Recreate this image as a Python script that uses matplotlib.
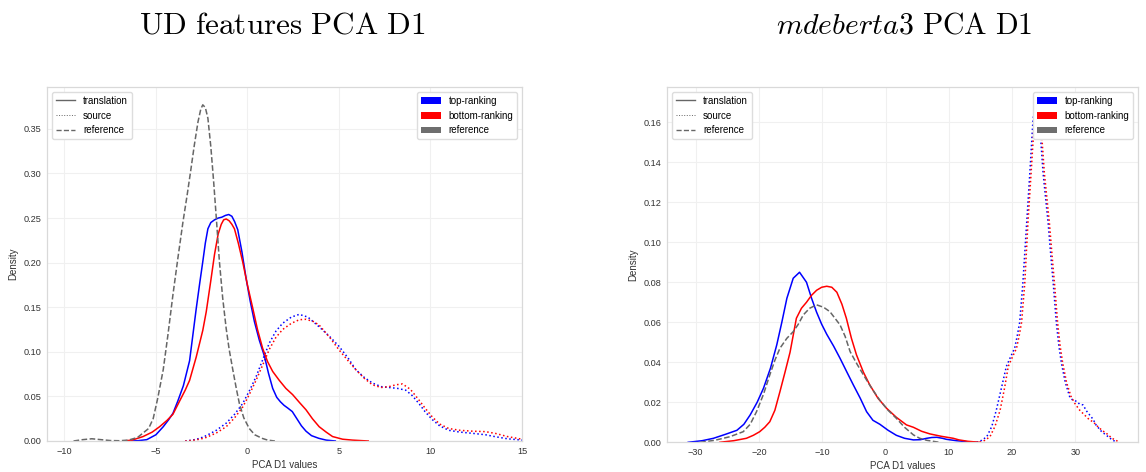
import matplotlib
matplotlib.use("Agg")
import matplotlib.pyplot as plt
from matplotlib.lines import Line2D
from matplotlib.patches import Patch

plt.rcParams['font.family'] = ['Liberation Sans', 'DejaVu Sans']
plt.rcParams['mathtext.fontset'] = 'cm'

# ---------------- data: UD features PCA D1 ----------------
ud_ref_x = [-9.5, -9.0, -8.5, -8.0, -7.5, -7.0, -6.5, -6.0, -5.7, -5.4, -5.15, -4.9, -4.6, -4.35, -4.07, -3.8,
            -3.52, -3.3, -3.1, -2.9, -2.7, -2.55, -2.44, -2.3, -2.16, -2.0, -1.85, -1.7, -1.53, -1.35, -1.16, -1.0,
            -0.8, -0.6, -0.44, -0.2, 0.1, 0.4, 0.8, 1.1, 1.5]
ud_ref_y = [0.0, 0.0015, 0.0025, 0.0015, 0.0005, 0.0003, 0.001, 0.004, 0.009, 0.014, 0.025, 0.048, 0.080, 0.118,
            0.164, 0.205, 0.246, 0.275, 0.303, 0.332, 0.358, 0.372, 0.377, 0.374, 0.362, 0.330, 0.292, 0.250, 0.201,
            0.160, 0.126, 0.103, 0.080, 0.058, 0.042, 0.026, 0.014, 0.007, 0.003, 0.001, 0.0]

ud_top_tr_x = [-6.5, -6.0, -5.5, -5.0, -4.6, -4.3, -4.07, -3.8, -3.5, -3.16, -2.8, -2.6, -2.44, -2.3, -2.16, -2.0,
               -1.8, -1.6, -1.4, -1.2, -1.02, -0.85, -0.7, -0.53, -0.3, -0.07, 0.15, 0.38, 0.65, 0.93, 1.15, 1.38,
               1.6, 1.8, 2.0, 2.2, 2.45, 2.7, 2.95, 3.2, 3.5, 3.9, 4.3, 4.8]
ud_top_tr_y = [0.0, 0.0003, 0.0015, 0.007, 0.016, 0.024, 0.031, 0.045, 0.062, 0.090, 0.148, 0.178, 0.201, 0.222,
               0.238, 0.245, 0.248, 0.250, 0.251, 0.253, 0.254, 0.252, 0.246, 0.237, 0.212, 0.182, 0.157, 0.134,
               0.113, 0.095, 0.076, 0.059, 0.049, 0.044, 0.040, 0.037, 0.033, 0.025, 0.017, 0.011, 0.006, 0.003,
               0.001, 0.0]

ud_bot_tr_x = [-6.8, -6.3, -5.7, -5.2, -4.8, -4.4, -4.07, -3.7, -3.4, -3.16, -2.8, -2.44, -2.25, -2.0, -1.8, -1.6,
               -1.43, -1.3, -1.16, -1.0, -0.85, -0.71, -0.5, -0.26, 0.0, 0.29, 0.55, 0.83, 1.1, 1.38, 1.74, 2.1,
               2.47, 2.85, 3.2, 3.55, 3.92, 4.3, 4.65, 5.2, 5.74, 6.6]
ud_bot_tr_y = [0.0, 0.001, 0.005, 0.010, 0.016, 0.023, 0.030, 0.045, 0.057, 0.068, 0.094, 0.124, 0.145, 0.180,
               0.209, 0.232, 0.243, 0.248, 0.249, 0.247, 0.243, 0.238, 0.222, 0.201, 0.175, 0.149, 0.125, 0.104,
               0.089, 0.078, 0.068, 0.059, 0.052, 0.043, 0.035, 0.025, 0.016, 0.010, 0.005, 0.002, 0.001, 0.0]

ud_top_src_x = [-3.4, -3.0, -2.6, -2.25, -1.7, -1.16, -0.7, -0.26, 0.1, 0.47, 0.85, 1.2, 1.55, 1.92, 2.4, 2.83,
                3.3, 3.92, 4.5, 5.01, 5.5, 5.92, 6.4, 6.83, 7.3, 7.74, 8.2, 8.65, 9.0, 9.37, 9.7, 10.1, 10.5, 11.0,
                11.6, 12.3, 13.0, 13.55, 14.2, 15.0]
ud_top_src_y = [0.0, 0.001, 0.003, 0.006, 0.012, 0.020, 0.030, 0.042, 0.056, 0.072, 0.092, 0.110, 0.123, 0.132,
                0.139, 0.142, 0.139, 0.128, 0.117, 0.106, 0.093, 0.080, 0.071, 0.065, 0.061, 0.060, 0.059, 0.057,
                0.051, 0.042, 0.033, 0.024, 0.017, 0.012, 0.010, 0.0086, 0.007, 0.0048, 0.0025, 0.001]

ud_bot_src_x = [-3.4, -3.0, -2.6, -2.25, -1.7, -1.16, -0.7, -0.26, 0.1, 0.47, 0.85, 1.2, 1.55, 1.92, 2.4, 2.83,
                3.2, 3.6, 3.92, 4.5, 5.01, 5.5, 5.92, 6.4, 6.83, 7.3, 7.74, 8.1, 8.47, 8.9, 9.37, 9.7, 10.1, 10.5,
                11.0, 11.6, 12.3, 13.0, 13.55, 14.2, 15.0]
ud_bot_src_y = [0.0, 0.0007, 0.002, 0.004, 0.009, 0.016, 0.026, 0.038, 0.052, 0.068, 0.086, 0.103, 0.116, 0.125,
                0.132, 0.136, 0.1365, 0.134, 0.130, 0.116, 0.102, 0.090, 0.080, 0.070, 0.063, 0.060, 0.061, 0.063,
                0.064, 0.058, 0.046, 0.037, 0.027, 0.019, 0.014, 0.012, 0.011, 0.0105, 0.0085, 0.005, 0.002]

# ---------------- data: mdeberta3 PCA D1 ----------------
md_ref_x = [-29.3, -27.0, -24.6, -22.5, -21.4, -20.4, -19.3, -18.3, -17.5, -16.7, -15.6, -14.6, -13.8, -13.0, -12.0,
            -10.9, -9.8, -8.8, -8.0, -7.2, -6.4, -5.6, -4.5, -3.5, -2.2, -0.9, 0.4, 1.7, 3.0, 4.4, 5.4, 6.5, 7.5, 8.5]
md_ref_y = [0.0, 0.001, 0.0028, 0.0053, 0.009, 0.0153, 0.024, 0.0337, 0.041, 0.047, 0.052, 0.0553, 0.059, 0.0637,
            0.067, 0.0687, 0.0675, 0.0653, 0.062, 0.0587, 0.053, 0.0453, 0.039, 0.0337, 0.027, 0.021, 0.016, 0.012,
            0.0075, 0.0037, 0.002, 0.001, 0.0005, 0.0]

md_top_tr_x = [-31.2, -29.0, -27.2, -25.3, -23.5, -22.4, -21.4, -20.3, -19.3, -18.2, -17.2, -16.4, -15.6, -14.6,
               -13.6, -12.5, -11.7, -10.9, -10.1, -9.3, -8.2, -7.2, -6.1, -5.1, -4.0, -3.0, -2.0, -0.9, 0.4, 1.7,
               3.0, 4.4, 5.5, 6.5, 7.3, 8.1, 9.0, 9.6, 11.2, 12.8, 14.4]
md_top_tr_y = [0.0, 0.0008, 0.002, 0.004, 0.006, 0.009, 0.0137, 0.020, 0.027, 0.037, 0.0487, 0.060, 0.072, 0.082,
               0.085, 0.080, 0.072, 0.065, 0.059, 0.054, 0.048, 0.042, 0.035, 0.0287, 0.022, 0.0153, 0.011, 0.009,
               0.006, 0.0035, 0.002, 0.0012, 0.0013, 0.002, 0.0024, 0.0025, 0.002, 0.0015, 0.0008, 0.0003, 0.0]

md_bot_tr_x = [-26.2, -24.0, -22.0, -20.9, -19.9, -19.1, -18.3, -17.5, -16.7, -15.9, -15.1, -14.1, -13.3, -12.5,
               -11.7, -10.9, -10.1, -9.3, -8.5, -7.7, -6.9, -6.2, -5.4, -4.6, -3.5, -2.5, -1.2, 0.16, 1.7, 3.3, 4.4,
               5.7, 7.0, 8.8, 10.7, 11.6, 13.0, 14.9]
md_bot_tr_y = [0.0, 0.0008, 0.002, 0.0035, 0.0053, 0.0075, 0.0103, 0.016, 0.0253, 0.035, 0.045, 0.062, 0.067, 0.070,
               0.0735, 0.076, 0.0775, 0.078, 0.0775, 0.075, 0.069, 0.062, 0.052, 0.0437, 0.035, 0.0287, 0.022, 0.017,
               0.0125, 0.0087, 0.0075, 0.0055, 0.0042, 0.003, 0.002, 0.0012, 0.0005, 0.0]

md_top_src_x = [14.4, 15.2, 16.0, 16.8, 17.5, 18.3, 19.1, 19.8, 20.4, 20.8, 21.2, 21.7, 22.3, 22.8, 23.3, 23.6, 23.9,
                24.15, 24.4, 24.9, 25.3, 25.7, 26.1, 26.5, 27.0, 27.4, 27.8, 28.4, 29.1, 29.6, 30.2, 30.7, 31.2,
                31.8, 32.3, 32.8, 33.3, 34.1, 34.9, 35.7, 36.5]
md_top_src_y = [0.0, 0.001, 0.0028, 0.008, 0.016, 0.027, 0.038, 0.043, 0.047, 0.053, 0.060, 0.0795, 0.1095, 0.1345,
                0.161, 0.169, 0.172, 0.168, 0.157, 0.1345, 0.122, 0.1095, 0.094, 0.0795, 0.0595, 0.048, 0.0395,
                0.030, 0.0228, 0.021, 0.0205, 0.019, 0.0187, 0.0155, 0.0135, 0.0115, 0.0085, 0.0055, 0.0035, 0.0015,
                0.0]

md_bot_src_x = [14.9, 15.7, 16.5, 17.3, 18.1, 18.8, 19.4, 20.1, 20.7, 21.1, 21.5, 22.0, 22.5, 23.0, 23.5, 23.8, 24.1,
                24.4, 24.6, 25.1, 25.5, 25.9, 26.3, 26.7, 27.2, 27.6, 28.0, 28.6, 29.3, 30.0, 30.7, 31.5, 32.3, 32.8,
                33.5, 34.2, 34.9, 35.8, 37.0]
md_bot_src_y = [0.0, 0.001, 0.0028, 0.008, 0.016, 0.027, 0.038, 0.043, 0.047, 0.053, 0.060, 0.0795, 0.1095, 0.1345,
                0.160, 0.168, 0.171, 0.167, 0.157, 0.1345, 0.122, 0.1095, 0.094, 0.0795, 0.0595, 0.048, 0.0395, 0.030,
                0.023, 0.019, 0.016, 0.0135, 0.011, 0.0103, 0.008, 0.006, 0.0045, 0.002, 0.0]

titles = [r'$\mathrm{UD\ features\ PCA\ D1}$', r'$\mathit{mdeberta3}\ \mathrm{PCA\ D1}$']
xlabel = 'PCA D1 values'
ylabel = 'Density'
style_labels = ['translation', 'source', 'reference']
group_labels = ['top-ranking', 'bottom-ranking', 'reference']

BLUE, RED, GRAY = '#0000ff', '#ff0000', '#666666'

fig = plt.figure(figsize=(11.46, 4.72), dpi=100)
ax1 = fig.add_axes([47/1146, 31/472, 475/1146, 354/472])
ax2 = fig.add_axes([667/1146, 29.7/472, 471/1146, 355.3/472])

panels = [
    (ax1, ud_top_tr_x, ud_top_tr_y, ud_bot_tr_x, ud_bot_tr_y, ud_top_src_x, ud_top_src_y,
     ud_bot_src_x, ud_bot_src_y, ud_ref_x, ud_ref_y),
    (ax2, md_top_tr_x, md_top_tr_y, md_bot_tr_x, md_bot_tr_y, md_top_src_x, md_top_src_y,
     md_bot_src_x, md_bot_src_y, md_ref_x, md_ref_y),
]

lw = 1.1
for (ax, ttx, tty, btx, bty, tsx, tsy, bsx, bsy, rx, ry) in panels:
    ax.set_facecolor('white')
    ax.grid(True, color='#f0f0f0', linewidth=0.8)
    ax.set_axisbelow(True)
    for s in ax.spines.values():
        s.set_color('#d9d9d9')
        s.set_linewidth(0.9)
    ax.tick_params(length=0, labelsize=6.6, colors='#333333', pad=4)
    ax.plot(tsx, tsy, color=BLUE, lw=lw, ls=':')
    ax.plot(bsx, bsy, color=RED, lw=lw, ls=':')
    ax.plot(ttx, tty, color=BLUE, lw=lw, ls='-')
    ax.plot(btx, bty, color=RED, lw=lw, ls='-')
    ax.plot(rx, ry, color=GRAY, lw=lw, ls='--')
    ax.set_xlabel(xlabel, fontsize=7, color='#333333', labelpad=3)
    ax.set_ylabel(ylabel, fontsize=7, color='#333333', labelpad=4)

    h1 = [Line2D([], [], color=GRAY, lw=1.0, ls='-'),
          Line2D([], [], color=GRAY, lw=0.7, ls=':'),
          Line2D([], [], color=GRAY, lw=1.0, ls='--')]
    leg1 = ax.legend(h1, style_labels, loc='upper left', fontsize=7, frameon=True,
                     borderaxespad=0.5, handlelength=2.0, framealpha=1.0)
    leg1.get_frame().set_edgecolor('#dddddd')
    ax.add_artist(leg1)
    h2 = [Patch(facecolor=BLUE), Patch(facecolor=RED), Patch(facecolor='#6e6e6e')]
    leg2 = ax.legend(h2, group_labels, loc='upper right', fontsize=7, frameon=True,
                     borderaxespad=0.5, handlelength=2.0, framealpha=1.0)
    leg2.get_frame().set_edgecolor('#dddddd')

ax1.set_xlim(-10.95, 15.0)
ax1.set_ylim(0, 0.397)
ax1.set_xticks([-10, -5, 0, 5, 10, 15])
ax1.set_yticks([0.0, 0.05, 0.10, 0.15, 0.20, 0.25, 0.30, 0.35])
ax1.set_yticklabels(['0.00', '0.05', '0.10', '0.15', '0.20', '0.25', '0.30', '0.35'])

ax2.set_xlim(-34.55, 39.9)
ax2.set_ylim(0, 0.1776)
ax2.set_xticks([-30, -20, -10, 0, 10, 20, 30])
ax2.set_yticks([0.0, 0.02, 0.04, 0.06, 0.08, 0.10, 0.12, 0.14, 0.16])
ax2.set_yticklabels(['0.00', '0.02', '0.04', '0.06', '0.08', '0.10', '0.12', '0.14', '0.16'])

fig.text(282/1146, 1 - 25/472, titles[0], ha='center', va='center', fontsize=22.4)
fig.text(904/1146, 1 - 25/472, titles[1], ha='center', va='center', fontsize=21.5)

fig.savefig('out.png', dpi=100, facecolor='white')
